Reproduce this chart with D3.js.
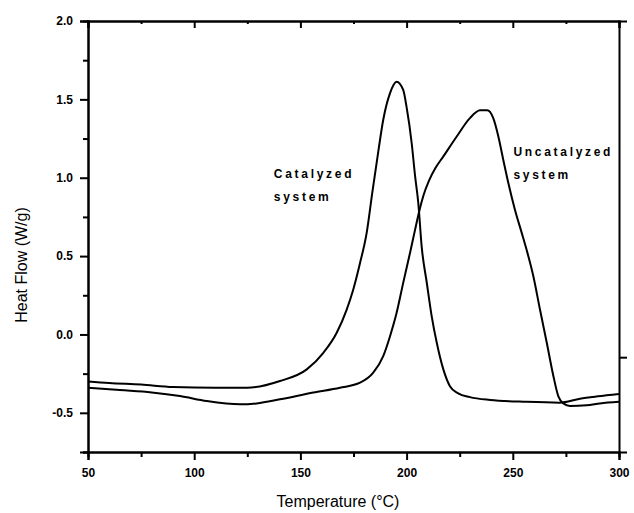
<!DOCTYPE html>
<html><head><meta charset="utf-8">
<script src="https://cdn.jsdelivr.net/npm/d3@7"></script>
<style>
body{margin:0;background:#fff;}
svg{display:block;}
.tick text{font-family:"Liberation Sans",Arial,sans-serif;font-weight:bold;font-size:12px;fill:#000;}
</style></head><body>
<svg id="c" width="634" height="513"></svg>
<script>
// Data
const catTemp = [50,60,75,90,110,125,140.4,153,160.8,167.1,171.8,174.9,178.1,181.2,183.8,186.7,189,192.2,195.3,198.4,200,202.4,204,205.5,207.1,209.5,211.8,214.2,217.3,220.4,224.3,229.8,239.3,256.5,272,281.6,290,300];
const catHeat = [-0.30,-0.31,-0.32,-0.335,-0.34,-0.34,-0.297,-0.223,-0.117,0.011,0.159,0.287,0.457,0.648,0.90,1.17,1.37,1.54,1.613,1.56,1.45,1.22,1.01,0.84,0.56,0.33,0.117,-0.053,-0.223,-0.33,-0.376,-0.40,-0.418,-0.43,-0.435,-0.41,-0.395,-0.38];
const uncTemp = [50,65,80,93.3,105.9,121.6,129.4,140.4,156.1,168.6,178.1,184.3,189,192.2,195.3,198.4,201.6,204,206,208,210.5,213.5,217.3,223.6,229.8,234.6,238,240.8,243.2,245.5,247.9,251,254.2,256.5,259.7,262.8,266,269.1,271.4,273.8,276.9,284.8,291,300];
const uncHeat = [-0.34,-0.355,-0.37,-0.393,-0.425,-0.446,-0.44,-0.414,-0.371,-0.34,-0.308,-0.244,-0.138,-0.011,0.138,0.329,0.52,0.669,0.79,0.89,0.98,1.06,1.136,1.263,1.38,1.43,1.43,1.38,1.263,1.115,0.966,0.796,0.648,0.54,0.37,0.159,-0.053,-0.265,-0.393,-0.44,-0.456,-0.452,-0.44,-0.43];
const xMajor = [50,100,150,200,250,300];
const xMinor = [75,125,175,225,275];
const yMajor = [-0.5,0.0,0.5,1.0,1.5,2.0];
const yMinor = [-0.75,-0.25,0.25,0.75,1.25,1.75];
const yLabels = ["-0.5","0.0","0.5","1.0","1.5","2.0"];
const xTitle = "Temperature (°C)";
const yTitle = "Heat Flow (W/g)";
const annotations = [
  {lines:["Catalyzed","system"], t:137.5, v:1.0},
  {lines:["Uncatalyzed","system"], t:250.3, v:1.14}
];

const svg = d3.select("#c");
const L=88, R=619, T=21, B=452;
const x = d3.scaleLinear().domain([50,300]).range([L,R]);
const y = d3.scaleLinear().domain([-0.75,2.0]).range([B,T]);

function styleAxis(g){
  g.select(".domain").attr("stroke","#000").attr("stroke-width",2);
  g.selectAll(".tick line").attr("stroke","#000").attr("stroke-width",2);
}
// minor ticks
svg.append("g").attr("transform",`translate(0,${B})`)
  .call(d3.axisBottom(x).tickValues(xMinor).tickSize(5).tickFormat(""))
  .call(styleAxis);
svg.append("g").attr("transform",`translate(${L},0)`)
  .call(d3.axisLeft(y).tickValues(yMinor).tickSize(5).tickFormat(""))
  .call(styleAxis);
// top mirrored inward ticks
svg.append("g").attr("transform",`translate(0,${T})`)
  .call(d3.axisTop(x).tickValues(xMajor).tickSize(-7).tickFormat(""))
  .call(styleAxis);
svg.append("g").attr("transform",`translate(0,${T})`)
  .call(d3.axisTop(x).tickValues(xMinor).tickSize(-3).tickFormat(""))
  .call(styleAxis);
// right spine
svg.append("g").attr("transform",`translate(${R},0)`)
  .call(d3.axisRight(y).tickValues([-0.145]).tickSize(8).tickFormat(""))
  .call(styleAxis);
// major axes
svg.append("g").attr("transform",`translate(0,${B})`)
  .call(d3.axisBottom(x).tickValues(xMajor).tickSize(8).tickPadding(8).tickFormat(d3.format("d")))
  .call(styleAxis);
svg.append("g").attr("transform",`translate(${L},0)`)
  .call(d3.axisLeft(y).tickValues(yMajor).tickSize(8).tickPadding(7).tickFormat((d,i)=>yLabels[i]))
  .call(styleAxis);

const line = d3.line().x(d=>x(d[0])).y(d=>y(d[1])).curve(d3.curveMonotoneX);
[[catTemp,catHeat],[uncTemp,uncHeat]].forEach(([ts,vs])=>{
  svg.append("path").datum(ts.map((t,i)=>[t,vs[i]]))
    .attr("d",line).attr("fill","none").attr("stroke","#000").attr("stroke-width",2);
});

annotations.forEach(a=>{
  const tx = svg.append("text").attr("x",x(a.t)).attr("y",y(a.v))
    .attr("font-family","Liberation Sans, Arial, sans-serif").attr("font-weight","bold")
    .attr("font-size",12).attr("letter-spacing",2.7).attr("fill","#000");
  a.lines.forEach((s,i)=>tx.append("tspan").attr("x",x(a.t)).attr("dy",i?23:0).text(s));
});

svg.append("text").attr("x",338).attr("y",507).attr("text-anchor","middle")
  .attr("font-family","Liberation Sans, Arial, sans-serif").attr("font-size",16).text(xTitle);
svg.append("text").attr("transform",`translate(27,265) rotate(-90)`).attr("text-anchor","middle")
  .attr("font-family","Liberation Sans, Arial, sans-serif").attr("font-size",16).text(yTitle);
</script></body></html>
